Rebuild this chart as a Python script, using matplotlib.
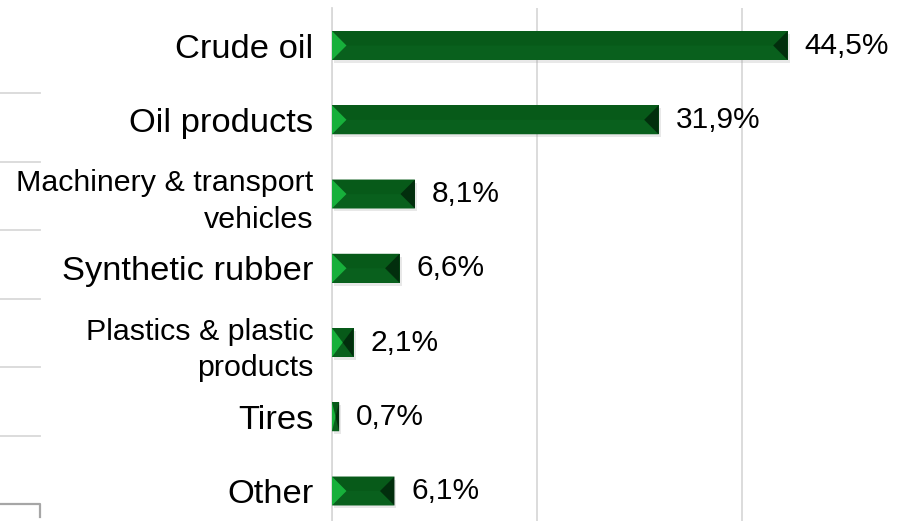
import matplotlib
matplotlib.use("Agg")
import matplotlib.pyplot as plt
from matplotlib import font_manager
from matplotlib.lines import Line2D
from matplotlib.patches import Polygon, Rectangle

categories = ["Crude oil", "Oil products", "Machinery & transport\nvehicles",
              "Synthetic rubber", "Plastics & plastic\nproducts", "Tires", "Other"]
shares = [44.5, 31.9, 8.1, 6.6, 2.1, 0.7, 6.1]
grid_ticks = [0, 20, 40]

names = {f.name for f in font_manager.fontManager.ttflist}
if "Liberation Sans Narrow" in names:
    big_font, big_size = "Liberation Sans Narrow", 29
else:
    big_font, big_size = "Liberation Sans", 24.8
small_font = "Liberation Sans"

fig = plt.figure(figsize=(9.03, 5.21), dpi=100)
ax = fig.add_axes([332 / 903, 0, 1 - 332 / 903, (521 - 8.4) / 521])
ax.set_xlim(0, 55.76)
ax.set_ylim(6.404, -0.5)

for s in ["top", "right", "bottom"]:
    ax.spines[s].set_visible(False)
ax.spines["left"].set_color("#d9d9d9")
ax.spines["left"].set_linewidth(1.3)
ax.set_xticks(grid_ticks)
ax.xaxis.grid(True, color="#d9d9d9", linewidth=1.3)
ax.tick_params(axis="x", length=0, labelbottom=False)
ax.tick_params(axis="y", length=0, pad=13.5)
ax.set_axisbelow(True)

ax.set_yticks(range(len(categories)))
ax.set_yticklabels(categories)
for lab, txt in zip(ax.get_yticklabels(), categories):
    if "\n" in txt:
        lab.set_fontfamily(small_font)
        lab.set_fontsize(21.9)
        lab.set_linespacing(1.4)
    else:
        lab.set_fontfamily(big_font)
        lab.set_fontsize(big_size)

# bevel depth: half the bar height, converted to x units
bar_h = 0.39
p0 = ax.transData.transform((0, 0))
p1 = ax.transData.transform((1, 1))
kx = abs(p1[0] - p0[0])
ky = abs(p1[1] - p0[1])
hh = bar_h / 2
depth = hh * ky / kx
sh_dx = 2 / kx
sh_dy = 3 / ky

for i, v in enumerate(shares):
    d = min(depth, v / 2)
    top, bot = i - hh, i + hh
    ax.add_patch(Rectangle((sh_dx, top + sh_dy), v, bar_h, color="#9a9a9a",
                           alpha=0.22, lw=0, zorder=2))
    # base fill hides seams between the bevel faces
    ax.add_patch(Rectangle((0, top), v, bar_h, color="#085d1b", lw=0, zorder=3))
    tl, tr, bl, br = (0, top), (v, top), (0, bot), (v, bot)
    L, R = (d, i), (v - d, i)
    ax.add_patch(Polygon([tl, tr, R, L], closed=True, color="#075a19", lw=0, zorder=3))
    ax.add_patch(Polygon([bl, br, R, L], closed=True, color="#09601d", lw=0, zorder=3))
    ax.add_patch(Polygon([tl, L, bl], closed=True, color="#17b03b", lw=0, zorder=3))
    ax.add_patch(Polygon([tr, R, br], closed=True, color="#022e0d", lw=0, zorder=3))
    ax.annotate(f"{v:.1f}".replace(".", ",") + "%", (v, i), xytext=(12.3, 0),
                textcoords="offset points", va="center", ha="left",
                fontsize=21.5, fontfamily=small_font, color="black")

# leftover lines from the neighbouring chart on the left edge
for y in [93, 162, 230, 299, 367, 436]:
    fig.add_artist(Line2D([0, 40 / 903], [1 - y / 521] * 2, color="#d9d9d9", lw=1.3))
fig.add_artist(Line2D([0, 40 / 903, 40 / 903], [1 - 504 / 521, 1 - 504 / 521, 1 - 517 / 521],
                      color="#a6a6a6", lw=1.6))

fig.savefig("out.png", dpi=100)
